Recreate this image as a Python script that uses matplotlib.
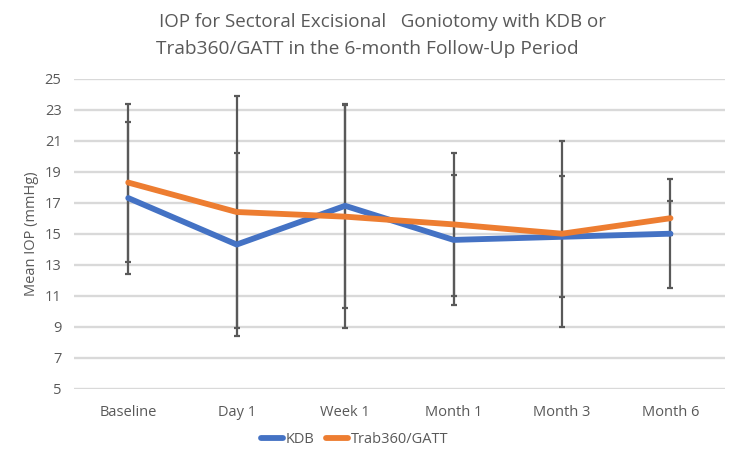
import numpy as np
from matplotlib import pyplot as plt

# Datos
categorias = ['Baseline', 'Day 1', 'Week 1', 'Month 1', 'Month 3', 'Month 6']
kdb = [17.3, 14.3, 16.8, 14.6, 14.8, 15.0]
kdb_err = [4.9, 5.9, 6.6, 4.2, 3.9, 3.5]
trab = [18.3, 16.4, 16.1, 15.6, 15.0, 16.0]
trab_err = [5.1, 7.5, 7.2, 4.6, 6.0, 1.1]
yticks = list(range(5, 26, 2))

plt.rcParams['font.family'] = ['Open Sans', 'DejaVu Sans']

fig = plt.figure(figsize=(7.35, 4.63), dpi=100)
ax = fig.add_axes([0.1007, 0.1605, 0.8853, 0.6695])

x = np.arange(len(categorias))
gris = '#595959'

# Barras de error
ax.errorbar(x, kdb, yerr=kdb_err, fmt='none', ecolor=gris, elinewidth=1.6,
            capsize=2, capthick=1.6, zorder=2)
ax.errorbar(x, trab, yerr=trab_err, fmt='none', ecolor=gris, elinewidth=1.6,
            capsize=2, capthick=1.6, zorder=2)

# Lineas
ax.plot(x, kdb, color='#4472C4', linewidth=4.2, solid_capstyle='round',
        solid_joinstyle='round', label='KDB', zorder=3)
ax.plot(x, trab, color='#ED7D31', linewidth=4.2, solid_capstyle='round',
        solid_joinstyle='round', label='Trab360/GATT', zorder=4)

# Ejes
ax.set_xlim(-0.5, len(categorias) - 0.5)
ax.set_ylim(5, 25)
ax.set_yticks(yticks)
ax.set_xticks(x)
ax.set_xticklabels(categorias)
ax.grid(axis='y', color='#d9d9d9', linewidth=1.7)
ax.set_axisbelow(True)
for s in ax.spines.values():
    s.set_visible(False)
ax.tick_params(axis='y', length=0, labelsize=10.5, colors=gris, pad=9)
ax.tick_params(axis='x', length=0, labelsize=10.5, colors=gris, pad=12)
ax.set_ylabel('Mean IOP (mmHg)', fontsize=10.5, color=gris, labelpad=4)

# Titulo
fig.text(0.52, 0.953, 'IOP for Sectoral Excisional   Goniotomy with KDB or',
         ha='center', va='center', fontsize=13.5, color=gris)
fig.text(0.50, 0.895, 'Trab360/GATT in the 6-month Follow-Up Period',
         ha='center', va='center', fontsize=13.8, color=gris)

# Leyenda
leg = fig.legend(loc='center', bbox_to_anchor=(0.483, 0.05), ncol=2, frameon=False,
                 fontsize=10.5, handlelength=1.5, handletextpad=0.2, columnspacing=0.8)
for t in leg.get_texts():
    t.set_color(gris)

plt.savefig('out.png', dpi=100)
